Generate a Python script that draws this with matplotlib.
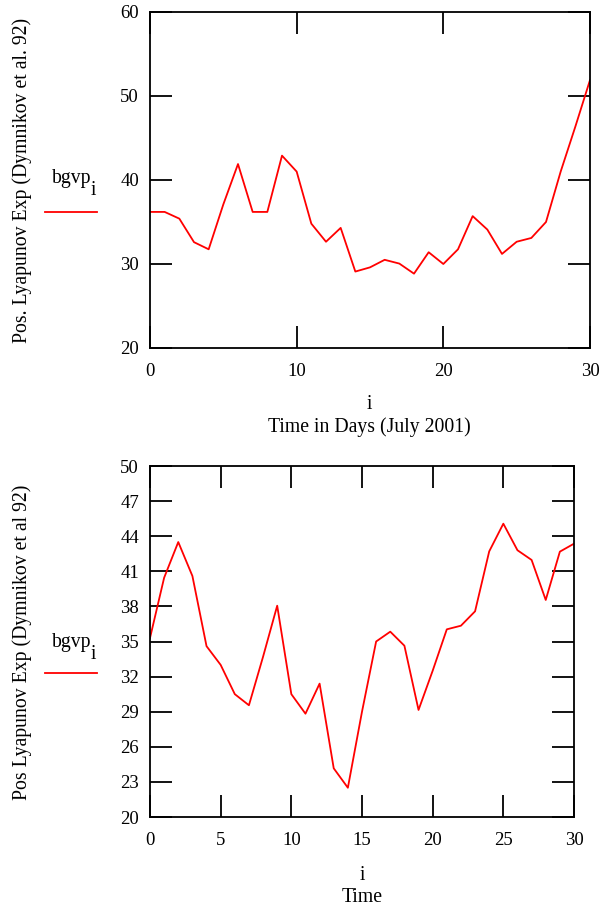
import matplotlib
matplotlib.use("Agg")
import matplotlib.pyplot as plt
import numpy as np

plt.rcParams['font.family'] = ['Liberation Serif', 'DejaVu Serif']

# top panel: July 2001
days = np.arange(0, 31)
bgvp_july = [36.2, 36.2, 35.4, 32.6, 31.75, 37.1, 41.9, 36.2, 36.2, 42.9,
             41.0, 34.8, 32.65, 34.3, 29.1, 29.6, 30.5, 30.05, 28.85, 31.4,
             30.0, 31.75, 35.7, 34.1, 31.2, 32.65, 33.1, 35.0, 41.0, 46.35,
             51.9]

# bottom panel
times = np.arange(0, 31)
bgvp_time = [35.3, 40.45, 43.5, 40.6, 34.6, 33.0, 30.5, 29.55, 33.7, 38.06,
             30.5, 28.83, 31.4, 24.16, 22.5, 29.0, 35.0, 35.84, 34.64, 29.15,
             32.5, 36.04, 36.35, 37.58, 42.7, 45.07, 42.8, 41.97, 38.55, 42.68,
             43.36]

FS = 14.2      # labels
TFS = 13.5     # tick labels
fig = plt.figure(figsize=(6.05, 9.05), dpi=100)


def px(x, y):
    # pixel position (from top left) -> figure fraction
    return x / 605, 1 - y / 905


def style_axes(ax):
    for sp in ax.spines.values():
        sp.set_linewidth(1.3)
    ax.tick_params(direction='in', length=16, width=1.3, top=True, right=True,
                   labelsize=TFS)
    ax.tick_params(axis='x', pad=11)
    ax.tick_params(axis='y', pad=8)


def legend_key(y_text, y_line):
    fig.text(*px(52, y_text), 'bgvp', ha='left', va='baseline', fontsize=FS)
    fig.text(*px(91, y_text + 12), 'i', ha='left', va='baseline', fontsize=FS)
    x0, y0 = px(45, y_line)
    x1, _ = px(97, y_line)
    fig.lines.append(plt.Line2D([x0, x1], [y0, y0], transform=fig.transFigure,
                                color='red', lw=1.3))


# ---- top
ax1 = fig.add_axes([150/605, 1 - 348/905, 440/605, 336/905])
ax1.plot(days, bgvp_july, color='red', lw=1.3)
ax1.set_xlim(0, 30)
ax1.set_ylim(20, 60)
ax1.set_xticks([0, 10, 20, 30])
ax1.set_yticks([20, 30, 40, 50, 60])
style_axes(ax1)
fig.text(*px(22, 180), 'Pos. Lyapunov Exp (Dymnikov et al. 92)',
         rotation=90, ha='center', va='center', fontsize=FS)
fig.text(*px(369, 404), 'i', ha='center', va='center', fontsize=FS)
fig.text(*px(369, 427), 'Time in Days (July 2001)', ha='center',
         va='center', fontsize=FS)
legend_key(183, 212)

# ---- bottom
ax2 = fig.add_axes([150/605, 1 - 817/905, 424/605, 351/905])
ax2.plot(times, bgvp_time, color='red', lw=1.3)
ax2.set_xlim(0, 30)
ax2.set_ylim(20, 50)
ax2.set_xticks([0, 5, 10, 15, 20, 25, 30])
ax2.set_yticks(np.arange(20, 51, 3))
style_axes(ax2)
fig.text(*px(22, 642), 'Pos Lyapunov Exp (Dymnikov et al 92)',
         rotation=90, ha='center', va='center', fontsize=FS)
fig.text(*px(362, 875), 'i', ha='center', va='center', fontsize=FS)
fig.text(*px(362, 897), 'Time', ha='center', va='center', fontsize=FS)
legend_key(647, 673)

fig.savefig('out.png', dpi=100)
